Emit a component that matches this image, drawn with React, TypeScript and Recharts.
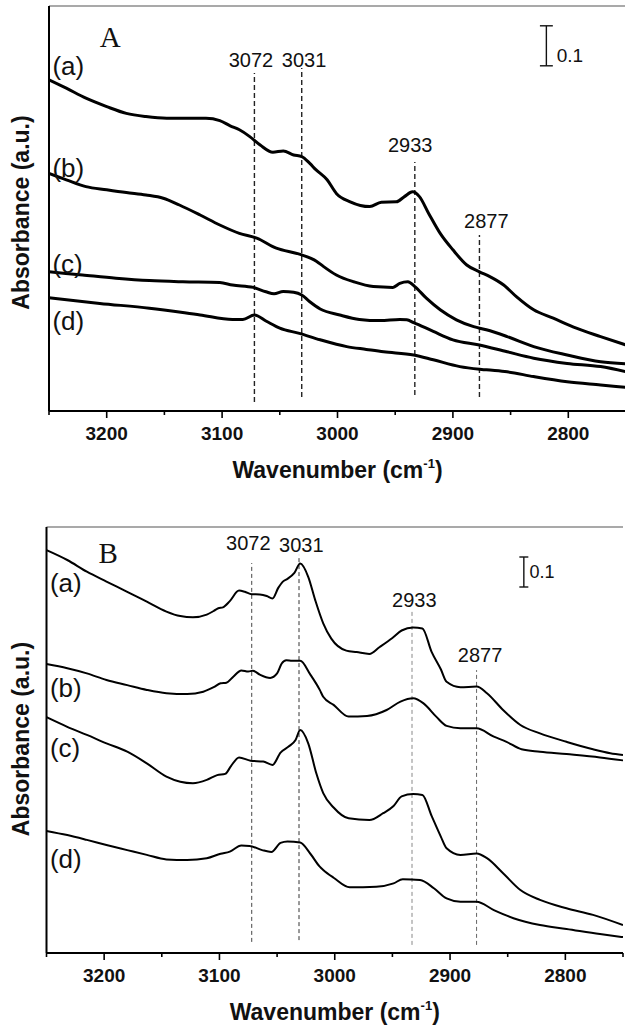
import React from "react";
import { LineChart, Line, XAxis, YAxis, ReferenceLine, ReferenceDot } from "recharts";

type Pt = [number, number];

// wavenumber axis (cm-1), major ticks every 100, minor every 50
const WN_TICKS = [3250, 3200, 3150, 3100, 3050, 3000, 2950, 2900, 2850, 2800, 2750];
const PEAKS = [3072, 3031, 2933, 2877];
const CURVE_NAMES = ["(a)", "(b)", "(c)", "(d)"];

// panel A spectra: [wavenumber, absorbance]
const specA_a: Pt[] = [
  [3250, 0.828], [3235, 0.807], [3218, 0.782], [3200, 0.761], [3183, 0.744], [3166, 0.736],
  [3148, 0.732], [3131, 0.732], [3114, 0.732], [3102, 0.726], [3093, 0.713], [3085, 0.703],
  [3076, 0.686], [3067, 0.665], [3056, 0.647], [3047, 0.65], [3038, 0.64], [3031, 0.636],
  [3024, 0.619], [3019, 0.604], [3009, 0.578], [3001, 0.544], [2989, 0.523], [2972, 0.511],
  [2962, 0.522], [2949, 0.523], [2942, 0.536], [2935, 0.548], [2929, 0.536], [2921, 0.494],
  [2911, 0.444], [2900, 0.403], [2888, 0.365], [2877, 0.348], [2868, 0.336], [2856, 0.315],
  [2845, 0.286], [2830, 0.253], [2813, 0.232], [2793, 0.207], [2772, 0.186], [2750, 0.165],
];
const specA_b: Pt[] = [
  [3250, 0.594], [3235, 0.578], [3218, 0.561], [3200, 0.553], [3183, 0.546], [3166, 0.54],
  [3151, 0.532], [3137, 0.515], [3119, 0.49], [3102, 0.465], [3085, 0.444], [3070, 0.432],
  [3053, 0.407], [3033, 0.392], [3018, 0.374], [3012, 0.361], [3001, 0.34], [2986, 0.323],
  [2969, 0.311], [2952, 0.309], [2946, 0.319], [2939, 0.323], [2933, 0.311], [2923, 0.282],
  [2911, 0.253], [2897, 0.228], [2882, 0.211], [2871, 0.203], [2853, 0.186], [2830, 0.161],
  [2801, 0.14], [2772, 0.123], [2750, 0.118],
];
const specA_c: Pt[] = [
  [3250, 0.348], [3221, 0.34], [3192, 0.332], [3163, 0.326], [3134, 0.323], [3102, 0.321],
  [3091, 0.315], [3073, 0.309], [3062, 0.298], [3055, 0.293], [3047, 0.299], [3038, 0.297],
  [3031, 0.29], [3024, 0.273], [3015, 0.255], [2998, 0.24], [2981, 0.229], [2963, 0.226],
  [2946, 0.229], [2940, 0.228], [2934, 0.221], [2917, 0.199], [2900, 0.178], [2877, 0.165],
  [2853, 0.148], [2830, 0.132], [2801, 0.119], [2772, 0.111], [2750, 0.098],
];
const specA_d: Pt[] = [
  [3250, 0.283], [3206, 0.269], [3163, 0.257], [3119, 0.24], [3091, 0.229], [3082, 0.229],
  [3072, 0.24], [3062, 0.225], [3050, 0.207], [3033, 0.194], [3015, 0.178], [2992, 0.161],
  [2975, 0.154], [2960, 0.148], [2934, 0.14], [2917, 0.128], [2894, 0.111], [2871, 0.103],
  [2853, 0.098], [2830, 0.086], [2801, 0.073], [2772, 0.065], [2750, 0.059],
];

// panel B spectra: [wavenumber, absorbance]
const specB_a: Pt[] = [
  [3250, 1.343], [3232, 1.31], [3215, 1.271], [3198, 1.238], [3180, 1.204], [3163, 1.171],
  [3146, 1.138], [3134, 1.123], [3123, 1.119], [3111, 1.128], [3105, 1.14], [3101, 1.149],
  [3097, 1.152], [3091, 1.173], [3083, 1.208], [3078, 1.204], [3072, 1.196], [3065, 1.195],
  [3059, 1.19], [3054, 1.182], [3049, 1.217], [3045, 1.238], [3041, 1.247], [3035, 1.267],
  [3030, 1.298], [3023, 1.254], [3017, 1.177], [3010, 1.099], [3003, 1.048], [2990, 1.008],
  [2981, 1.003], [2970, 0.997], [2961, 1.02], [2950, 1.05], [2942, 1.075], [2932, 1.085],
  [2924, 1.082], [2916, 1.004], [2908, 0.946], [2903, 0.904], [2891, 0.886], [2877, 0.888],
  [2868, 0.866], [2854, 0.81], [2839, 0.76], [2822, 0.732], [2799, 0.704], [2776, 0.679],
  [2761, 0.666], [2750, 0.66],
];
const specB_b: Pt[] = [
  [3250, 0.963], [3232, 0.949], [3215, 0.932], [3198, 0.91], [3180, 0.893], [3163, 0.877],
  [3146, 0.866], [3128, 0.863], [3114, 0.871], [3105, 0.886], [3099, 0.899], [3094, 0.901],
  [3088, 0.921], [3081, 0.942], [3075, 0.938], [3071, 0.941], [3065, 0.928], [3056, 0.917],
  [3050, 0.932], [3046, 0.965], [3042, 0.976], [3037, 0.974], [3030, 0.974], [3021, 0.927],
  [3013, 0.877], [3010, 0.854], [3001, 0.827], [2988, 0.788], [2972, 0.79], [2955, 0.81],
  [2943, 0.838], [2932, 0.849], [2923, 0.832], [2912, 0.788], [2903, 0.757], [2891, 0.749],
  [2877, 0.749], [2862, 0.721], [2851, 0.704], [2838, 0.679], [2822, 0.671], [2799, 0.663],
  [2770, 0.652], [2750, 0.642],
];
const specB_c: Pt[] = [
  [3250, 0.786], [3232, 0.754], [3215, 0.727], [3198, 0.699], [3180, 0.671], [3163, 0.632],
  [3146, 0.588], [3134, 0.571], [3123, 0.566], [3111, 0.577], [3102, 0.593], [3095, 0.597],
  [3090, 0.623], [3083, 0.652], [3073, 0.641], [3062, 0.638], [3054, 0.627], [3047, 0.668],
  [3040, 0.688], [3034, 0.71], [3030, 0.743], [3023, 0.699], [3016, 0.599], [3010, 0.533],
  [3001, 0.485], [2988, 0.449], [2970, 0.443], [2958, 0.466], [2949, 0.49], [2942, 0.522],
  [2932, 0.53], [2924, 0.527], [2916, 0.457], [2908, 0.388], [2903, 0.349], [2891, 0.327],
  [2877, 0.332], [2868, 0.316], [2854, 0.266], [2839, 0.21], [2822, 0.177], [2799, 0.149],
  [2776, 0.127], [2750, 0.093],
];
const specB_d: Pt[] = [
  [3250, 0.407], [3232, 0.393], [3215, 0.377], [3198, 0.36], [3180, 0.343], [3163, 0.327],
  [3146, 0.312], [3128, 0.31], [3111, 0.316], [3099, 0.331], [3091, 0.338], [3081, 0.358],
  [3074, 0.357], [3063, 0.343], [3055, 0.337], [3047, 0.367], [3041, 0.372], [3030, 0.368],
  [3021, 0.33], [3013, 0.288], [3010, 0.277], [3001, 0.251], [2987, 0.219], [2964, 0.221],
  [2949, 0.232], [2941, 0.246], [2926, 0.243], [2914, 0.216], [2903, 0.182], [2891, 0.171],
  [2877, 0.171], [2862, 0.143], [2845, 0.116], [2822, 0.093], [2799, 0.08], [2770, 0.063],
  [2750, 0.053],
];

const SANS = "Arial, 'Liberation Sans', Helvetica, sans-serif";
const SERIF = "'Times New Roman', 'Liberation Serif', serif";

const toRows = (pts: Pt[]) => pts.map(([w, y]) => ({ w, y }));

interface PanelCfg {
  letter: string;
  letterAt: Pt;
  height: number;
  margin: { top: number; right: number; bottom: number; left: number };
  yMax: number;
  yTitleDy: number;
  curves: Pt[][];
  curveLabelAt: Pt[];
  lineWidth: number;
  peakSpans: Pt[];
  peakLabelAt: Pt[];
  dashColors: string[];
  dashWidth: number;
  dashArray: string;
  bar: { wn: number; y0: number; half: number; label: Pt; fontSize: number };
}

const PANEL_A: PanelCfg = {
  letter: "A",
  letterAt: [3206, 0.91],
  height: 490,
  margin: { top: 6, right: 14, bottom: 19, left: 39 },
  yMax: 1.0125,
  yTitleDy: 4,
  curves: [specA_a, specA_b, specA_c, specA_d],
  curveLabelAt: [[3247, 0.84], [3247, 0.585], [3247, 0.345], [3247, 0.2025]],
  lineWidth: 3,
  peakSpans: [[0.0225, 0.845], [0.035, 0.8575], [0.04, 0.6225], [0.035, 0.44]],
  peakLabelAt: [[3075, 0.86], [3029, 0.86], [2937, 0.6475], [2871, 0.4575]],
  dashColors: ["#222", "#222", "#222", "#222"],
  dashWidth: 1.4,
  dashArray: "5 3",
  bar: { wn: 2819, y0: 0.863, half: 5.6, label: [2810, 0.873], fontSize: 19 },
};

const PANEL_B: PanelCfg = {
  letter: "B",
  letterAt: [3205, 1.3],
  height: 544,
  margin: { top: 37, right: 17, bottom: 21, left: 36.5 },
  yMax: 1.42,
  yTitleDy: -1,
  curves: [specB_a, specB_b, specB_c, specB_d],
  curveLabelAt: [[3247, 1.203], [3247, 0.853], [3247, 0.653], [3247, 0.283]],
  lineWidth: 2,
  peakSpans: [[0.037, 1.3], [0.043, 1.327], [0.027, 1.138], [0.027, 0.943]],
  peakLabelAt: [[3075, 1.343], [3029, 1.337], [2931, 1.154], [2874, 0.971]],
  dashColors: ["#444", "#333", "#888", "#666"],
  dashWidth: 1,
  dashArray: "4 3",
  bar: { wn: 2836, y0: 1.22, half: 3.9, label: [2831, 1.25], fontSize: 18 },
};

function WnTick(props: any) {
  const { x, y, payload } = props;
  const major = payload.value % 100 === 0;
  return (
    <g>
      <line x1={x} x2={x} y1={y} y2={y + (major ? 7 : 4)} stroke="#000" strokeWidth={1.6} />
      {major && (
        <text x={x} y={y + 28.5} textAnchor="middle" fontFamily={SANS} fontWeight="bold" fontSize={19} fill="#111">
          {payload.value}
        </text>
      )}
    </g>
  );
}

function XTitle(props: any) {
  const vb = props.viewBox || { x: 0, y: 0, width: 0 };
  return (
    <text x={vb.x + vb.width / 2} y={vb.y + 67} textAnchor="middle" fontFamily={SANS} fontWeight="bold" fontSize={23} fill="#111">
      <tspan>Wavenumber (cm</tspan>
      <tspan dy={-10} fontSize={13}>-1</tspan>
      <tspan dy={10}>)</tspan>
    </text>
  );
}

// free text placed in data coordinates; anchor is the baseline point
function note(key: string, at: Pt, text: string, style: React.SVGProps<SVGTextElement>) {
  return (
    <ReferenceDot
      key={key}
      x={at[0]}
      y={at[1]}
      r={0}
      fill="none"
      stroke="none"
      label={{
        content: (p: any) => {
          const vb = p.viewBox || { x: 0, y: 0, width: 0, height: 0 };
          return (
            <text x={vb.x + (vb.width || 0) / 2} y={vb.y + (vb.height || 0) / 2} {...style}>
              {text}
            </text>
          );
        },
      }}
    />
  );
}

function Panel({ cfg }: { cfg: PanelCfg }) {
  const yTitle = (p: any) => {
    const vb = p.viewBox || { y: 0, height: 0 };
    const cy = vb.y + vb.height / 2 + cfg.yTitleDy;
    return (
      <text x={29} y={cy} transform={`rotate(-90, 29, ${cy})`} textAnchor="middle" fontFamily={SANS} fontWeight="bold" fontSize={23} fill="#111">
        Absorbance (a.u.)
      </text>
    );
  };
  const { bar } = cfg;
  return (
    <LineChart width={640} height={cfg.height} margin={cfg.margin}>
      <XAxis
        type="number"
        dataKey="w"
        domain={[2750, 3250]}
        reversed
        ticks={WN_TICKS}
        interval={0}
        allowDataOverflow
        tickSize={0}
        tickMargin={0}
        tickLine={false}
        axisLine={{ stroke: "#000", strokeWidth: 2 }}
        tick={<WnTick />}
        height={60}
        label={{ content: XTitle }}
      />
      <YAxis
        type="number"
        domain={[0, cfg.yMax]}
        allowDataOverflow
        width={10}
        tick={false}
        tickLine={false}
        axisLine={{ stroke: "#000", strokeWidth: 2 }}
        label={{ content: yTitle }}
      />
      {/* top frame */}
      <ReferenceLine y={cfg.yMax} stroke="#555" strokeWidth={1.2} />

      {PEAKS.map((wn, i) => (
        <ReferenceLine
          key={`pk${wn}`}
          segment={[{ x: wn, y: cfg.peakSpans[i][0] }, { x: wn, y: cfg.peakSpans[i][1] }]}
          stroke={cfg.dashColors[i]}
          strokeWidth={cfg.dashWidth}
          strokeDasharray={cfg.dashArray}
        />
      ))}

      {/* 0.1 absorbance scale bar */}
      <ReferenceLine segment={[{ x: bar.wn, y: bar.y0 }, { x: bar.wn, y: bar.y0 + 0.1 }]} stroke="#111" strokeWidth={1.4} />
      <ReferenceLine segment={[{ x: bar.wn + bar.half, y: bar.y0 }, { x: bar.wn - bar.half, y: bar.y0 }]} stroke="#111" strokeWidth={1.4} />
      <ReferenceLine segment={[{ x: bar.wn + bar.half, y: bar.y0 + 0.1 }, { x: bar.wn - bar.half, y: bar.y0 + 0.1 }]} stroke="#111" strokeWidth={1.4} />

      {cfg.curves.map((pts, i) => (
        <Line
          key={`c${i}`}
          data={toRows(pts)}
          dataKey="y"
          type="monotone"
          stroke="#000"
          strokeWidth={cfg.lineWidth}
          dot={false}
          activeDot={false}
          isAnimationActive={false}
        />
      ))}

      {note("bar", bar.label, "0.1", { fontFamily: SANS, fontSize: bar.fontSize, fill: "#111" })}
      {note("letter", cfg.letterAt, cfg.letter, { fontFamily: SERIF, fontSize: 29, fill: "#111" })}
      {PEAKS.map((wn, i) =>
        note(`pl${wn}`, cfg.peakLabelAt[i], String(wn), { fontFamily: SANS, fontSize: 20, fill: "#111", textAnchor: "middle" })
      )}
      {CURVE_NAMES.map((name, i) =>
        note(`cl${i}`, cfg.curveLabelAt[i], name, { fontFamily: SANS, fontSize: 26, fill: "#111" })
      )}
    </LineChart>
  );
}

export default function App() {
  return (
    <div style={{ position: "absolute", left: 0, top: 0, width: 625, height: 1034, overflow: "hidden", background: "#fff" }}>
      <div style={{ position: "absolute", left: 0, top: 0 }}>
        <Panel cfg={PANEL_A} />
      </div>
      <div style={{ position: "absolute", left: 0, top: 490 }}>
        <Panel cfg={PANEL_B} />
      </div>
    </div>
  );
}
